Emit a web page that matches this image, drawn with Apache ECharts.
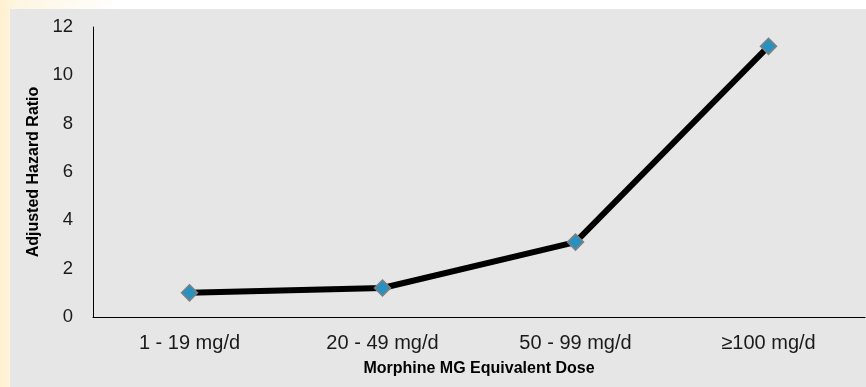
<!DOCTYPE html>
<html>
<head>
<meta charset="utf-8">
<script src="https://cdn.jsdelivr.net/npm/echarts@6/dist/echarts.min.js"></script>
<style>
html,body{margin:0;padding:0;background:#fff;}
#chart{width:866px;height:387px;}
</style>
</head>
<body>
<div id="chart"></div>
<script>
// Dose bands and adjusted hazard ratios
const doseBands = ['1 - 19 mg/d', '20 - 49 mg/d', '50 - 99 mg/d', '\u2265100 mg/d'];
const hazardRatio = [1.0, 1.2, 3.1, 11.2];
const yTicks = { min: 0, max: 12, interval: 2 };

const chart = echarts.init(document.getElementById('chart'), null, { renderer: 'canvas' });

chart.setOption({
  animation: false,
  backgroundColor: '#ffffff',
  graphic: [
    {
      type: 'rect', z: -10, silent: true,
      shape: { x: 0, y: 0, width: 120, height: 387 },
      style: {
        fill: new echarts.graphic.LinearGradient(0, 0, 1, 0, [
          { offset: 0, color: '#fdf1cf' },
          { offset: 0.15, color: '#fef6e2' },
          { offset: 1, color: '#ffffff' }
        ])
      }
    },
    {
      type: 'rect', z: -9, silent: true,
      shape: { x: 10, y: 9, width: 856, height: 378 },
      style: { fill: '#e6e6e6' }
    }
  ],
  grid: { left: 93, right: 1, top: 27, bottom: 70, containLabel: false },
  xAxis: {
    type: 'category',
    data: doseBands,
    boundaryGap: true,
    name: 'Morphine MG Equivalent Dose',
    nameLocation: 'middle',
    nameGap: 44,
    nameTextStyle: { fontFamily: 'Liberation Sans', fontWeight: 'bold', fontSize: 16, color: '#000' },
    axisLine: { lineStyle: { color: '#000', width: 1 } },
    axisTick: { show: false },
    axisLabel: { fontFamily: 'Liberation Sans', fontSize: 20, color: '#1a1a1a', margin: 16 }
  },
  yAxis: {
    type: 'value',
    min: yTicks.min, max: yTicks.max, interval: yTicks.interval,
    name: 'Adjusted Hazard Ratio',
    nameLocation: 'middle',
    nameGap: 45,
    nameTextStyle: { fontFamily: 'Liberation Sans', fontWeight: 'bold', fontSize: 16, color: '#000' },
    axisLine: { show: true, lineStyle: { color: '#000', width: 1 } },
    axisTick: { show: false },
    splitLine: { show: false },
    axisLabel: { fontFamily: 'Liberation Sans', fontSize: 18.5, color: '#1a1a1a', margin: 20 }
  },
  series: [{
    type: 'line',
    data: hazardRatio,
    lineStyle: { color: '#000', width: 6 },
    symbol: 'diamond',
    symbolSize: 16,
    itemStyle: { color: '#2a90bf', borderColor: '#7f7f7f', borderWidth: 1.5 },
    z: 3
  }]
});
</script>
</body>
</html>
